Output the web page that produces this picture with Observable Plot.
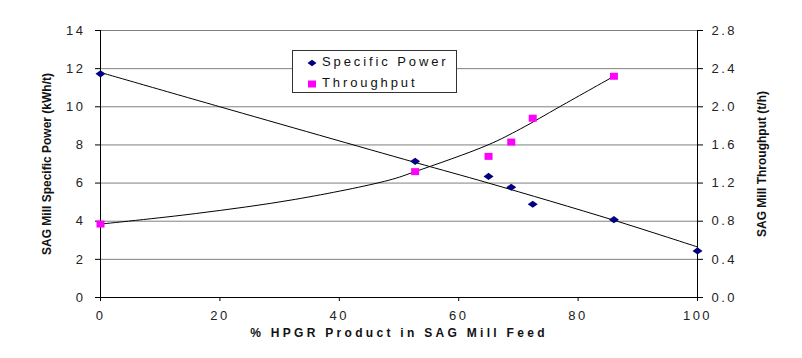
<!DOCTYPE html>
<html>
<head>
<meta charset="utf-8">
<script src="https://cdn.jsdelivr.net/npm/d3@7"></script>
<script src="https://cdn.jsdelivr.net/npm/@observablehq/plot@0.6"></script>
<style>
  html, body { margin: 0; padding: 0; background: #fff; }
  #wrap { position: relative; width: 802px; height: 358px; }
  svg text { font-family: "Liberation Sans", Arial, sans-serif; }
  g[aria-label="y-axis tick label"] text,
  g[aria-label="x-axis tick label"] text { letter-spacing: 2.5px; }
  #legend {
    position: absolute; left: 292px; top: 50px; width: 163px; height: 41px;
    background: #fff; border: 1px solid #333;
    font-family: "Liberation Sans", Arial, sans-serif; font-size: 13px;
    letter-spacing: 2.9px; color: #111;
  }
  #legend .row { position: absolute; left: 14px; height: 16px; line-height: 16px; white-space: nowrap; }
  #legend .mk { display: inline-block; vertical-align: middle; margin-right: 5px; }
</style>
</head>
<body>
<div id="wrap"></div>
<script>
// ---- data ----
const hpgr = [0, 52.7, 65.0, 68.8, 72.4, 86.0, 100];
const specificPower = [11.73, 7.14, 6.35, 5.78, 4.89, 4.08, 2.44];
const throughputX = [0, 52.7, 65.0, 68.8, 72.4, 86.0];
const throughput = [0.77, 1.32, 1.48, 1.63, 1.88, 2.32];

// trend lines
const powerTrendX = [0, 20, 52.5, 65, 86, 100];
const powerTrendY = [11.8, 10.0, 7.1, 6.0, 4.05, 2.65];
const tputTrendX = [0, 15.9, 32.7, 48.3, 52.7, 64.9, 70.4, 76.9, 86.0];
const tputTrendY = [0.77, 0.88, 1.03, 1.23, 1.32, 1.60, 1.77, 2.0, 2.32];

const xTicks = [0, 20, 40, 60, 80, 100];
const leftTicks = [0, 2, 4, 6, 8, 10, 12, 14];
const rightTicks = [0, 0.4, 0.8, 1.2, 1.6, 2.0, 2.4, 2.8];

const xTitle = "% HPGR Product in SAG Mill Feed";
const leftTitle = "SAG Mill Specific Power (kWh/t)";
const rightTitle = "SAG Mill Throughput (t/h)";
const legendLabels = ["Specific Power", "Throughput"];

// right axis maps onto left scale (14 / 2.8)
const k = 14 / 2.8;

const powerPts = hpgr.map((x, i) => ({x, y: specificPower[i]}));
const tputPts = throughputX.map((x, i) => ({x, y: throughput[i] * k}));
const powerLine = powerTrendX.map((x, i) => ({x, y: powerTrendY[i]}));
const tputLine = tputTrendX.map((x, i) => ({x, y: tputTrendY[i] * k}));

const diamond = { draw(ctx) { ctx.moveTo(-5, 0); ctx.lineTo(0, -3.6); ctx.lineTo(5, 0); ctx.lineTo(0, 3.6); ctx.closePath(); } };
const square = { draw(ctx) { ctx.rect(-4, -3.5, 8, 7); } };

const plot = Plot.plot({
  width: 802, height: 358,
  marginLeft: 100, marginRight: 105, marginTop: 30, marginBottom: 61,
  style: { fontFamily: "Liberation Sans, Arial, sans-serif", fontSize: "13px", color: "#222", background: "transparent" },
  x: { domain: [0, 100] },
  y: { domain: [0, 14] },
  marks: [
    Plot.gridY(leftTicks, { stroke: "#808080", strokeOpacity: 1 }),
    Plot.ruleY([0], { stroke: "#000" }),
    Plot.ruleX([0], { stroke: "#000" }),
    Plot.ruleX([100], { stroke: "#000" }),
    Plot.axisY(leftTicks, { anchor: "left", tickSize: 5, tickPadding: 10, label: null, stroke: "#000", fill: "#222" }),
    Plot.axisY(rightTicks.map(v => v * k), { anchor: "right", tickSize: 5, tickPadding: 9, label: null, stroke: "#000", fill: "#222",
      tickFormat: v => (v / k).toFixed(1) }),
    Plot.axisX(xTicks, { anchor: "bottom", tickSize: 4, tickPadding: 9, label: null, stroke: "#000", fill: "#222" }),
    Plot.line(powerLine, { x: "x", y: "y", stroke: "#000", strokeWidth: 1, curve: "catmull-rom" }),
    Plot.line(tputLine, { x: "x", y: "y", stroke: "#000", strokeWidth: 1, curve: "catmull-rom" }),
    Plot.dot(powerPts, { x: "x", y: "y", symbol: diamond, fill: "#000080", stroke: "none" }),
    Plot.dot(tputPts, { x: "x", y: "y", symbol: square, fill: "#FF00FF", stroke: "none" }),
    Plot.text([xTitle], { text: d => d, frameAnchor: "bottom", dy: 39, fontWeight: "bold", fontSize: 12, fill: "#111",
      textAnchor: "middle" }),
    Plot.text([leftTitle], { text: d => d, frameAnchor: "left", dx: -53, rotate: -90, textAnchor: "middle",
      fontWeight: "bold", fontSize: 12, fill: "#111" }),
    Plot.text([rightTitle], { text: d => d, frameAnchor: "right", dx: 65, rotate: -90, textAnchor: "middle",
      fontWeight: "bold", fontSize: 12, fill: "#111" })
  ]
});
document.getElementById("wrap").appendChild(plot);

// letter-spaced x-axis title, as in the reference
d3.select(plot).selectAll("text")
  .filter(function () { return this.textContent === xTitle; })
  .style("letter-spacing", "3.3px");

// legend
const legend = document.createElement("div");
legend.id = "legend";
legend.innerHTML =
  `<div class="row" style="top:3px"><svg class="mk" width="10" height="8"><path d="M0.5,4L5,0.8L9.5,4L5,7.2Z" fill="#000080"/></svg>${legendLabels[0]}</div>` +
  `<div class="row" style="top:24px"><svg class="mk" width="10" height="8"><rect x="1" y="0.5" width="8" height="7" fill="#FF00FF"/></svg>${legendLabels[1]}</div>`;
document.getElementById("wrap").appendChild(legend);
</script>
</body>
</html>
